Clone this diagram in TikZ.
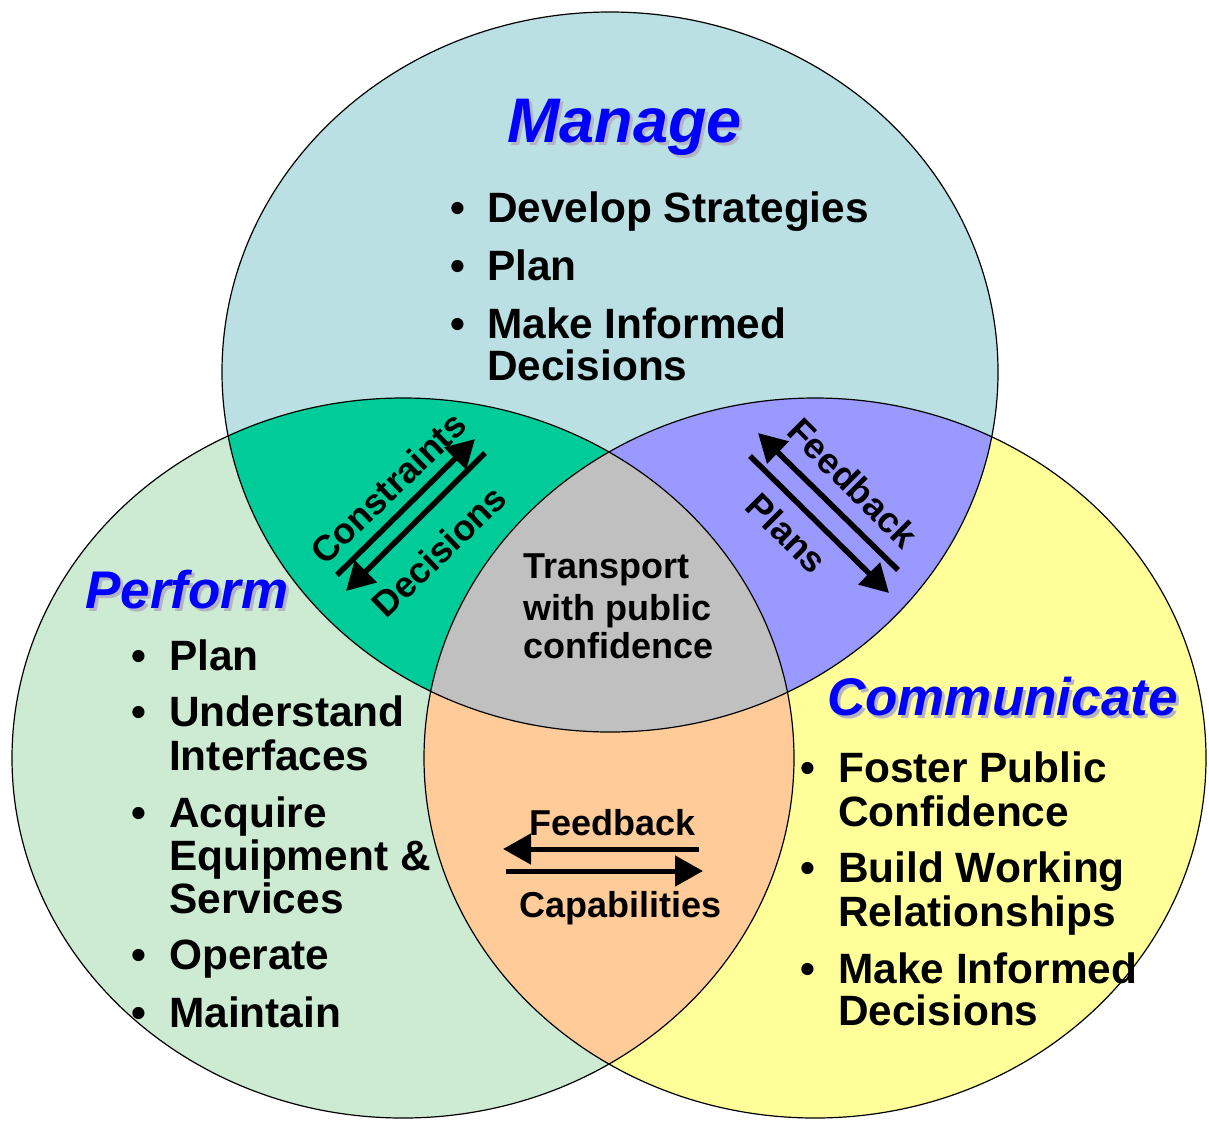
\documentclass[tikz,border=0pt]{standalone}
\usepackage{fontspec}
\setmainfont{Liberation Sans}
\usetikzlibrary{arrows.meta}
\definecolor{cM}{HTML}{BAE0E3}
\definecolor{cP}{HTML}{CDEBD3}
\definecolor{cC}{HTML}{FFFF99}
\definecolor{cMP}{HTML}{00CC99}
\definecolor{cMC}{HTML}{9999FF}
\definecolor{cPC}{HTML}{FFCC99}
\definecolor{cAll}{HTML}{C0C0C0}
\definecolor{titleblue}{HTML}{0000FF}
\definecolor{shadowgray}{HTML}{B4B4C4}
\tikzset{
  ellM/.style={insert path={(610,372) ellipse [x radius=388, y radius=360]}},
  ellP/.style={insert path={(403,758) ellipse [x radius=391, y radius=360]}},
  ellC/.style={insert path={(815,758) ellipse [x radius=391, y radius=360]}},
  itm/.style={anchor=base west, inner sep=0pt, text height=30pt, text depth=8pt, font=\bfseries\fontsize{42.4}{42}\selectfont},
  bul/.style={anchor=base, inner sep=0pt, font=\bfseries\fontsize{42.4}{42}\selectfont},
  ttlstyle/.style={anchor=base west, inner sep=0pt, text=titleblue, font=\bfseries\itshape\fontsize{#1}{#1}\selectfont},
  shdstyle/.style={anchor=base west, inner sep=0pt, text=shadowgray, font=\bfseries\itshape\fontsize{#1}{#1}\selectfont},
  midtxt/.style={anchor=base west, inner sep=0pt, text height=26pt, text depth=7pt, font=\bfseries\fontsize{36}{36}\selectfont},
  diag/.style={anchor=center, inner sep=0pt, font=\bfseries\fontsize{36}{36}\selectfont},
  arr/.style={line width=5.5pt, -{Triangle[length=28pt,width=30pt]}},
  outline/.style={draw=black, line width=1.2pt}
}
\begin{document}
\begin{tikzpicture}[x=1pt,y=-1pt]
\useasboundingbox (0,0) rectangle (1209,1125);
% base fills
\fill[cM, ellM];
\fill[cP, ellP];
\fill[cC, ellC];
% pairwise
\begin{scope}\clip[ellM]; \fill[cMP, ellP];\end{scope}
\begin{scope}\clip[ellM]; \fill[cMC, ellC];\end{scope}
\begin{scope}\clip[ellP]; \fill[cPC, ellC];\end{scope}
\begin{scope}\clip[ellM]; \clip[ellP]; \fill[cAll, ellC];\end{scope}
% outlines
\path[outline, ellM];
\path[outline, ellP];
\path[outline, ellC];

% titles
\node[shdstyle=63] (mgs) at (510,145) {Manage};
\node[ttlstyle=63] (mg) at (507,142) {Manage};
\node[shdstyle=53] (pfs) at (88,611) {Perform};
\node[ttlstyle=53] (pf) at (85,608) {Perform};
\node[shdstyle=53] (cms) at (830,718) {Communicate};
\node[ttlstyle=53] (cm) at (827,715) {Communicate};

% Manage items
\node[bul] (mb1) at (458,222) {•};
\node[itm] (m1) at (487,222) {Develop Strategies};
\node[bul] (mb2) at (458,280) {•};
\node[itm] (m2) at (487,280) {Plan};
\node[bul] (mb3) at (458,338) {•};
\node[itm] (m3a) at (487,338) {Make Informed};
\node[itm] (m3b) at (487,380) {Decisions};

% Perform items
\node[bul] (pb1) at (139,670) {•};
\node[itm] (p1) at (169,670) {Plan};
\node[bul] (pb2) at (139,726) {•};
\node[itm] (p2a) at (169,726) {Understand};
\node[itm] (p2b) at (169,770) {Interfaces};
\node[bul] (pb3) at (139,827) {•};
\node[itm] (p3a) at (169,827) {Acquire};
\node[itm] (p3b) at (169,870) {Equipment \&};
\node[itm] (p3c) at (169,913) {Services};
\node[bul] (pb4) at (139,969) {•};
\node[itm] (p4) at (169,969) {Operate};
\node[bul] (pb5) at (139,1027) {•};
\node[itm] (p5) at (169,1027) {Maintain};

% Communicate items
\node[bul] (cb1) at (808,782) {•};
\node[itm] (c1a) at (838,782) {Foster Public};
\node[itm] (c1b) at (838,826) {Confidence};
\node[bul] (cb2) at (808,882) {•};
\node[itm] (c2a) at (838,882) {Build Working};
\node[itm] (c2b) at (838,926) {Relationships};
\node[bul] (cb3) at (808,983) {•};
\node[itm] (c3a) at (838,983) {Make Informed};
\node[itm] (c3b) at (838,1025) {Decisions};

% centre
\node[midtxt] (t1) at (523,578) {Transport};
\node[midtxt] (t2) at (523,620) {with public};
\node[midtxt] (t3) at (523,658) {confidence};

% Manage-Perform arrows
\coordinate (cnA) at (337,575);
\coordinate (cnB) at (475,439);
\coordinate (deA) at (485,453);
\coordinate (deB) at (346,591);
\draw[arr] (cnA) -- (cnB);
\draw[arr] (deA) -- (deB);
\node[diag, rotate=44] (cons) at (388,488) {Constraints};
\node[diag, rotate=44] (deci) at (439,551) {Decisions};

% Manage-Communicate arrows
\coordinate (fbA) at (898,570);
\coordinate (fbB) at (758,433);
\coordinate (plA) at (750,456);
\coordinate (plB) at (889,593);
\draw[arr] (fbA) -- (fbB);
\draw[arr] (plA) -- (plB);
\node[diag, rotate=-45] (feed1) at (853,483) {Feedback};
\node[diag, rotate=-45] (plans) at (787,533) {Plans};

% Perform-Communicate arrows
\coordinate (ofA) at (699,849);
\coordinate (ofB) at (503,849);
\coordinate (ocA) at (506,871);
\coordinate (ocB) at (703,871);
\draw[arr, line width=5pt] (ofA) -- (ofB);
\draw[arr, line width=5pt] (ocA) -- (ocB);
\node[midtxt] (feed2) at (529,835) {Feedback};
\node[midtxt] (capa) at (519,917) {Capabilities};
\end{tikzpicture}
\end{document}
